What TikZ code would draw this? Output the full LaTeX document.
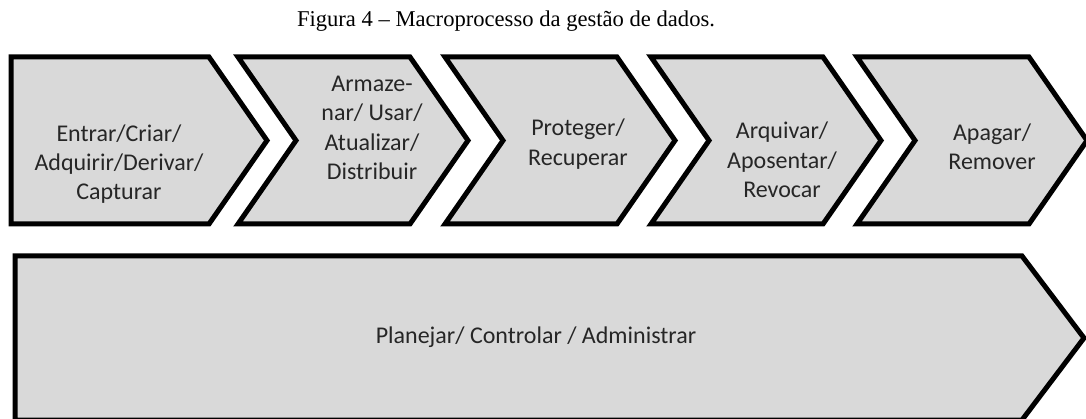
\documentclass[tikz,border=0pt]{standalone}
\usepackage{fontspec}
\setmainfont{Carlito}
\newfontfamily\titlefont{Liberation Serif}
\definecolor{chevfill}{HTML}{D9D9D9}
\definecolor{txtcol}{HTML}{262626}
\begin{document}
\begin{tikzpicture}[x=1pt,y=-1pt,
  chev/.style={draw=black,fill=chevfill,line width=5pt,line join=miter},
  lbl/.style={align=center,text=txtcol,font=\fontsize{24}{29.3}\selectfont,inner sep=0pt},
  ttl/.style={font=\titlefont\fontsize{22.6}{27}\selectfont,inner sep=0pt,anchor=base}]
\useasboundingbox (0,0) rectangle (1086,419);
\fill[white] (0,0) rectangle (1086,419);
\node[ttl] (title) at (506,27) {Figura 4 \textendash{} Macroprocesso da gestão de dados.};
% first chevron
\draw[chev] (11,57) -- (209,57) -- (267,140.5) -- (209,224) -- (11,224) -- cycle;
% chevrons 2..5
\foreach \L in {238,445,651,857}{
  \draw[chev] (\L,57) -- ({\L+172},57) -- ({\L+230},140.5) -- ({\L+172},224) -- (\L,224) -- ({\L+58},140.5) -- cycle;
}
% bottom arrow
\draw[chev] (15,256) -- (1022,256) -- (1084,338) -- (1022,420) -- (15,420) -- cycle;
\node[lbl] (t1) at (119,164) {Entrar/Criar/\\Adquirir/Derivar/\\Capturar};
\node[lbl] (t2) at (372,128) {Armaze-\\nar/ Usar/\\Atualizar/\\Distribuir};
\node[lbl] (t3) at (578,144) {Proteger/\\Recuperar};
\node[lbl] (t4) at (782,160) {Arquivar/\\Aposentar/\\Revocar};
\node[lbl] (t5) at (992,147) {Apagar/\\Remover};
\node[lbl] (t6) at (536,337) {Planejar/ Controlar / Administrar};
\end{tikzpicture}
\end{document}
